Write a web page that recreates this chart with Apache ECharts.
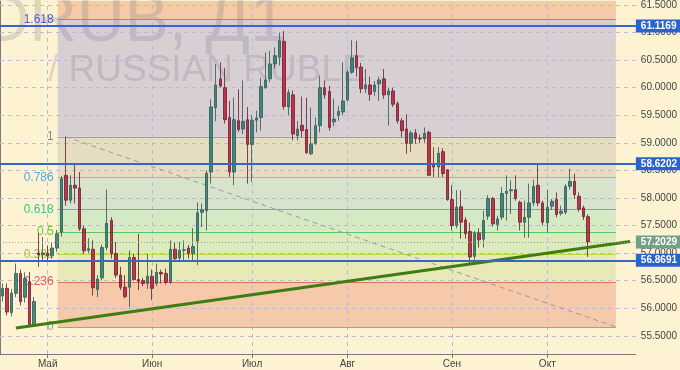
<!DOCTYPE html>
<html><head><meta charset="utf-8">
<script src="https://cdn.jsdelivr.net/npm/echarts@6/dist/echarts.min.js"></script>
<style>html,body{margin:0;padding:0;background:#fdf3d2;}#c{width:680px;height:370px;}</style>
</head><body><div id="c"></div>
<script>
// ---- data ----
const slotCount = 140;                       // trading-day slots on the x axis
const monthTickIndex = [10, 33, 55, 76, 99, 120];
const monthNames = ['Май', 'Июн', 'Июл', 'Авг', 'Сен', 'Окт'];
// daily candles: [open, close, low, high]
const ohlc = [
[56.22,56.36,56.12,56.45],[56.36,55.93,55.87,56.45],[55.92,56.27,55.85,56.35],[56.27,56.63,56.20,56.81],
[56.63,56.12,56.05,56.70],[56.20,56.54,56.10,56.65],[56.48,55.68,55.66,56.66],[55.69,56.12,55.66,56.20],
[57.00,56.97,56.75,57.36],[56.97,57.00,56.87,57.29],[57.00,56.95,56.87,57.14],[56.95,57.09,56.90,57.20],
[57.09,57.35,57.02,57.42],[57.38,58.35,57.30,58.40],[58.41,57.96,57.86,59.11],[57.96,58.23,57.90,58.41],
[58.23,58.18,57.90,58.62],[58.18,57.44,57.40,58.47],[57.44,57.04,56.98,57.50],[57.05,57.08,57.00,57.27],
[57.07,56.37,56.23,57.23],[56.34,56.53,56.20,56.60],[56.55,57.10,56.50,57.15],[57.10,57.54,57.05,58.15],
[57.59,56.99,56.90,57.65],[56.99,56.60,56.55,57.20],[56.60,56.38,56.33,56.75],[56.38,56.21,56.18,56.60],
[56.38,56.92,56.02,57.05],[56.92,56.52,56.50,56.99],[56.52,56.49,56.33,57.35],[56.50,56.45,56.40,56.55],
[56.45,56.58,56.35,56.98],[56.58,56.36,56.15,56.70],[56.45,56.65,56.40,56.81],[56.65,56.62,56.45,56.70],
[56.63,56.47,56.43,56.72],[56.47,57.07,56.44,57.23],[57.07,56.90,56.85,57.20],[56.91,57.05,56.85,57.20],
[57.05,57.06,56.87,57.23],[57.09,56.99,56.90,57.15],[56.99,57.12,56.84,57.45],[57.22,57.73,56.78,57.92],
[57.74,57.78,57.47,57.90],[57.77,58.45,57.41,58.50],[58.47,59.65,58.26,59.79],[59.64,60.05,59.39,60.43],
[60.16,60.03,60.00,60.46],[60.00,59.42,59.35,60.36],[59.46,58.47,58.38,59.76],[58.47,59.42,58.23,59.82],
[59.40,59.24,59.20,59.97],[59.25,59.39,59.16,60.13],[59.42,58.97,58.26,59.65],[58.97,59.41,58.29,59.50],
[59.41,59.45,59.19,59.58],[59.46,60.02,59.22,60.18],[60.00,60.14,59.98,60.64],[60.16,60.43,60.10,60.67],
[60.43,60.58,60.35,60.73],[60.55,60.85,60.40,61.00],[60.84,59.66,59.60,61.03],[59.65,59.91,59.50,59.97],
[59.87,59.16,59.04,59.95],[59.13,59.25,59.04,59.40],[59.32,59.22,59.10,59.84],[59.24,58.82,58.80,59.82],
[58.80,58.98,58.78,59.64],[58.99,59.31,58.96,59.46],[59.31,60.00,59.19,60.22],[60.00,59.87,59.80,60.13],
[59.93,59.28,59.22,60.03],[59.38,59.43,59.30,59.80],[59.50,59.57,59.40,59.67],[59.56,59.76,59.50,60.46],
[59.78,60.28,59.75,60.32],[60.28,60.54,60.25,60.86],[60.58,60.37,60.20,60.85],[60.37,59.98,59.90,60.45],
[59.98,60.05,59.90,60.34],[60.05,59.88,59.76,60.20],[59.93,60.05,59.85,60.12],[60.07,60.14,59.76,60.20],
[60.16,59.87,59.80,60.34],[59.87,59.94,59.31,60.00],[59.94,59.70,59.65,60.00],[59.71,59.40,59.35,59.75],
[59.40,59.22,59.10,59.45],[59.25,58.99,58.80,59.52],[58.99,59.18,58.83,59.22],[59.18,59.08,58.98,59.25],
[59.08,59.07,59.00,59.15],[59.07,59.17,59.00,59.28],[59.19,58.41,58.40,59.22],[58.62,58.56,58.38,58.92],
[58.56,58.81,58.38,58.92],[58.84,58.44,58.38,58.90],[58.51,57.97,57.95,58.52],[57.97,57.50,57.41,58.23],
[57.50,57.83,57.45,58.14],[57.84,57.56,57.26,58.14],[57.60,57.35,57.26,57.65],[57.39,56.93,56.81,57.55],
[56.94,57.36,56.84,57.40],[57.36,57.24,57.10,57.45],[57.25,57.59,57.10,57.77],[57.67,57.99,57.60,58.05],
[57.99,57.53,57.48,58.02],[57.52,57.62,57.41,57.68],[57.65,58.08,57.60,58.20],[58.08,58.12,57.59,58.41],
[58.13,58.15,57.71,58.32],[58.15,57.99,57.95,58.41],[57.92,57.56,57.41,57.95],[57.56,57.65,57.28,57.95],
[57.65,57.91,57.28,58.26],[57.91,58.21,57.85,58.33],[58.23,57.91,57.85,58.61],[57.91,57.56,57.50,57.95],
[57.55,57.83,57.38,58.15],[57.85,57.94,57.78,57.98],[57.97,57.70,57.65,58.10],[57.72,57.76,57.68,57.86],
[57.74,58.21,57.70,58.25],[58.21,58.30,58.15,58.53],[58.30,58.06,57.98,58.44],[58.03,57.80,57.75,58.10],
[57.82,57.66,57.60,57.86],[57.66,57.2029,56.93,57.70]
];
const yTickValues = [55.5,56,56.5,57,57.5,58,58.5,59,59.5,60,60.5,61,61.5];
const fibHigh = 59.11, fibLow = 55.66;
const fibHighSlot = 14.5, fibEndSlot = 135.6, fibRectStartSlot = 12.7;
const fibRatios = [0, 0.236, 0.382, 0.5, 0.618, 0.786, 1, 1.618];
const fibLabels = ['0', '0.236', '0.382', '0.5', '0.618', '0.786', '1', '1.618'];
const trendX = [3.5, 138.7];
const trendY = [55.64, 57.21];
const priceLevels = [61.1169, 58.6202, 56.8691];
const currentPrice = 57.2029;

// ---- styles ----
const yMin = 55.169, yMax = 61.573;
const bandColors = ['#f5c9a9','#e7e9b6','#dcebbd','#d5eac4','#d8e3cd','#e6dcc2','#d8cfd3','#f5caa9'];
const fibLineColors = ['#a3a0a0','#e07262','#bfd640','#5cc85c','#40c8a0','#88bcdf','#a0a0a0','#8d85cc'];
const fibLabelColors = ['#999999','#e85858','#a8c030','#66cc33','#33c890','#55aadd','#888888','#4c5cd0'];
const gridStyle = {color: '#b6bbd8', width: 1, type: [4, 4], opacity: 1};

const monthSet = new Set(monthTickIndex);
const categories = Array.from({length: slotCount}, (_, i) => String(i));
const fibVal = r => fibLow + r * (fibHigh - fibLow);

const bandData = [];
for (let i = 0; i < fibRatios.length; i++) {
  const y0 = fibVal(fibRatios[i]);
  const y1 = i + 1 < fibRatios.length ? fibVal(fibRatios[i + 1]) : yMax;
  bandData.push([{coord: [fibRectStartSlot, y1], itemStyle: {color: bandColors[i]}}, {coord: [fibEndSlot, y0]}]);
}
const fibLineData = fibRatios.map((r, i) => [
  {coord: [fibRectStartSlot, fibVal(r)], lineStyle: {color: fibLineColors[i], width: 1.2, type: 'solid'},
   label: {show: true, position: 'start', distance: 4, formatter: fibLabels[i], color: fibLabelColors[i], fontSize: 12}},
  {coord: [fibEndSlot, fibVal(r)]}
]);
const gridLineData = yTickValues.map(v => [{coord: [0, v], lineStyle: gridStyle, label: {show: false}}, {coord: [slotCount, v]}])
  .concat(monthTickIndex.map(i => [{coord: [i + 0.5, yMin], lineStyle: gridStyle, label: {show: false}}, {coord: [i + 0.5, yMax]}]));

const priceLineData = priceLevels.map(v => [
  {coord: [0, v], lineStyle: {color: '#3467cc', width: 2, type: 'solid'},
   label: {show: true, position: 'end', distance: 0, formatter: v.toFixed(4), color: '#fff', fontWeight: 'bold',
           fontSize: 10, backgroundColor: '#2a62d0', padding: [2, 4, 1, 5]}},
  {coord: [slotCount, v]}
]).concat([[
  {coord: [0, currentPrice], lineStyle: {color: '#8fa894', width: 1, type: [1, 2]},
   label: {show: true, position: 'end', distance: 0, formatter: currentPrice.toFixed(4), color: '#fff', fontWeight: 'bold',
           fontSize: 10, backgroundColor: '#74a088', padding: [2, 4, 1, 5]}},
  {coord: [slotCount, currentPrice]}
]]);

const chart = echarts.init(document.getElementById('c'), null, {renderer: 'canvas'});
chart.setOption({
  animation: false,
  backgroundColor: '#fdf3d2',
  textStyle: {fontFamily: '"Liberation Sans", Arial, sans-serif'},
  grid: {left: 0, right: 42, top: 0, bottom: 16, containLabel: false},
  graphic: [
    {type: 'text', x: -110, y: 23, z: 2, silent: true,
     style: {text: 'USDRUB, Д1', font: '66px "Liberation Sans", Arial', fill: 'rgba(105,100,125,0.2)', textVerticalAlign: 'middle', verticalAlign: 'middle'}},
    {type: 'text', x: 48, y: 71, z: 2, silent: true,
     style: {text: '/ RUSSIAN RUBLE', font: '37px "Liberation Sans", Arial', fill: 'rgba(105,100,125,0.2)', textVerticalAlign: 'middle', verticalAlign: 'middle'}}
  ],
  xAxis: [{
    type: 'category', data: categories, boundaryGap: true,
    axisLine: {show: true, lineStyle: {color: '#7a7a7a'}},
    axisTick: {show: true, alignWithLabel: true, length: 4, interval: i => monthSet.has(i), lineStyle: {color: '#7a7a7a'}},
    axisLabel: {interval: i => monthSet.has(i), formatter: (v, i) => monthNames[monthTickIndex.indexOf(i)] || '',
                color: '#444', fontSize: 10, margin: 5},
    splitLine: {show: false}
  }, {
    type: 'value', min: 0, max: slotCount, show: false
  }],
  yAxis: {
    type: 'value', position: 'right', min: yMin, max: yMax, splitNumber: 13, scale: true,
    axisLine: {show: true, lineStyle: {color: '#7a7a7a'}},
    axisTick: {show: true, length: 3, lineStyle: {color: '#7a7a7a'}},
    axisLabel: {formatter: v => v.toFixed(4), color: '#444', fontSize: 10, margin: 5, showMinLabel: false, showMaxLabel: false},
    splitLine: {show: false}
  },
  series: [
    {type: 'line', name: 'bands', xAxisIndex: 1, data: [], z: 1, silent: true,
     markArea: {silent: true, z: 1, data: bandData}},
    {type: 'line', name: 'grid', xAxisIndex: 1, data: [], z: 3, silent: true,
     markLine: {silent: true, z: 3, symbol: ['none', 'none'], animation: false, data: gridLineData}},
    {type: 'line', name: 'fib', xAxisIndex: 1, data: [], z: 3, silent: true,
     markLine: {silent: true, z: 3, symbol: ['none', 'none'], animation: false, data: fibLineData}},
    {type: 'line', name: 'fibDiag', xAxisIndex: 1, z: 3, silent: true, symbol: 'none',
     data: [[fibHighSlot, fibHigh], [fibEndSlot, fibLow]],
     lineStyle: {color: '#9a9a9a', width: 1, type: [5, 4]}},
    {type: 'candlestick', name: 'USDRUB', xAxisIndex: 0, z: 5, barWidth: 3, clip: false,
     data: ohlc,
     itemStyle: {color: '#187c70', color0: '#c0142e', borderColor: '#3f5a56', borderColor0: '#6a2838', borderWidth: 1, opacity: 0.85}},
    {type: 'line', name: 'trend', xAxisIndex: 1, z: 6, silent: true, symbol: 'none',
     data: trendX.map((x, i) => [x, trendY[i]]),
     lineStyle: {color: '#3f7d12', width: 3}},
    {type: 'line', name: 'prices', xAxisIndex: 1, data: [], z: 8, silent: true,
     markLine: {silent: true, z: 8, symbol: ['none', 'none'], animation: false, data: priceLineData}}
  ]
});
</script></body></html>
